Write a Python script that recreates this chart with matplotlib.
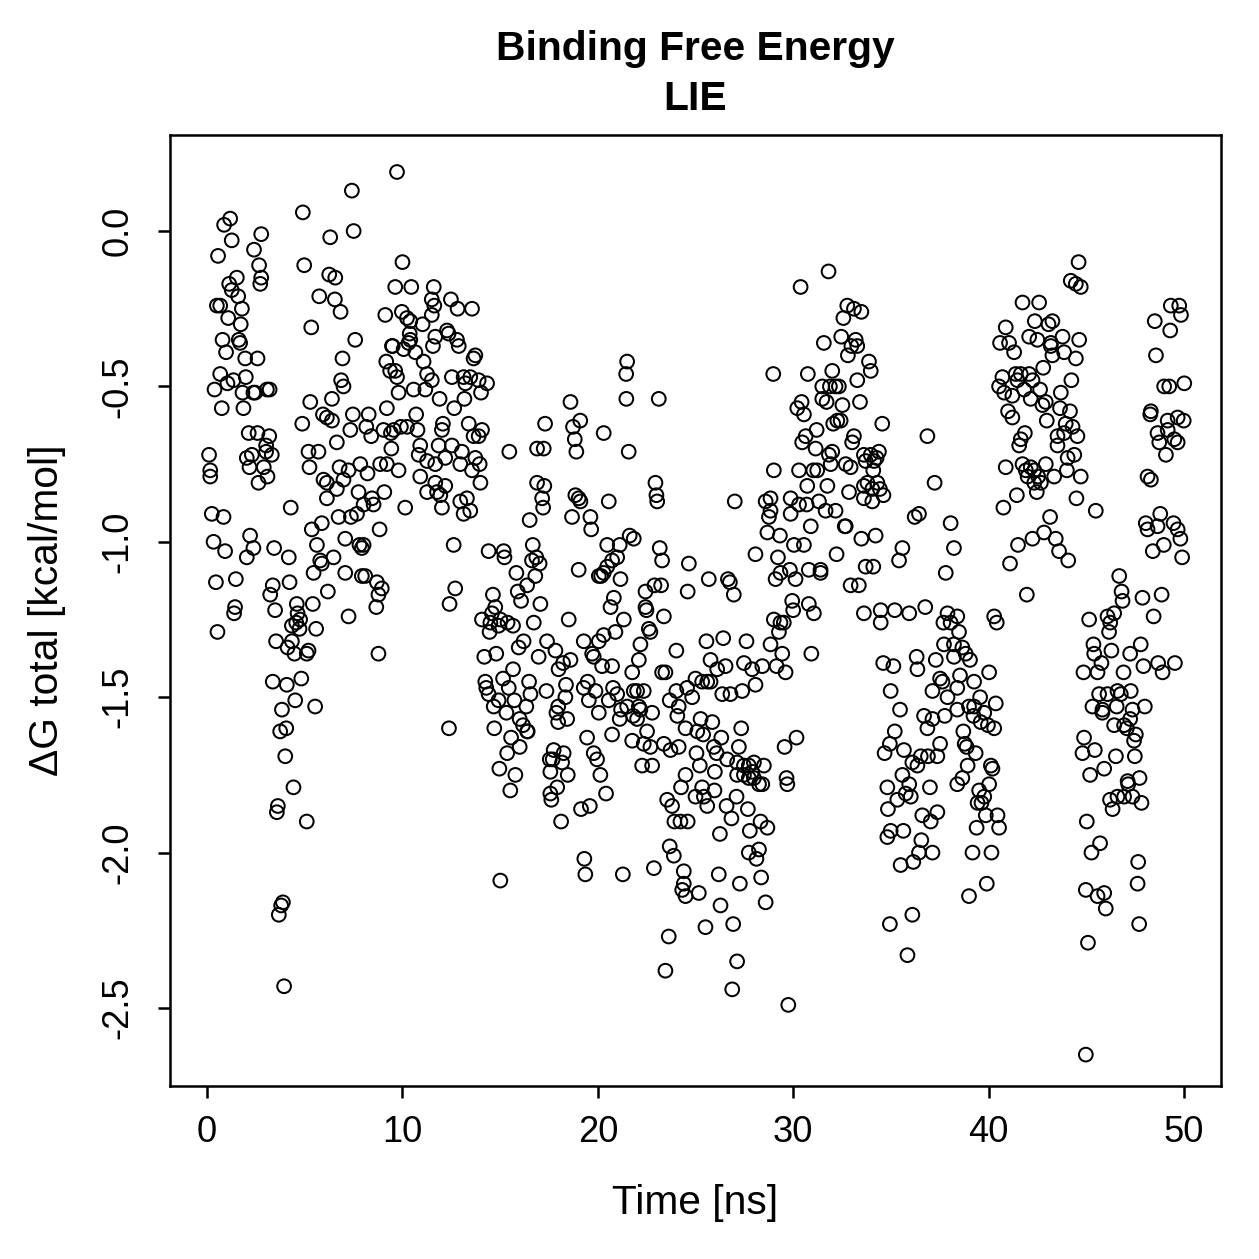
import matplotlib
matplotlib.use("Agg")
import matplotlib.pyplot as plt

plt.rcParams['font.family'] = ['Liberation Sans', 'DejaVu Sans']
plt.rcParams['axes.unicode_minus'] = False

title_lines = ["Binding Free Energy", "LIE"]
x_label = "Time [ns]"
y_label = "\u0394G total [kcal/mol]"
x_ticks = [0, 10, 20, 30, 40, 50]
y_ticks = [-2.5, -2.0, -1.5, -1.0, -0.5, 0.0]

# (time [ns], dG [kcal/mol]), grouped by region
early_upper = [(9.72,0.19),(7.41,0.13),(4.90,0.06),(1.18,0.04),(0.87,0.02),(2.77,-0.01),(7.50,0.00),(6.30,-0.02),(1.26,-0.03),(2.40,-0.06),(0.56,-0.08),(4.97,-0.11),(10.00,-0.10),(2.66,-0.11),(6.25,-0.14),(6.56,-0.15),(1.52,-0.15),(2.77,-0.15),(2.72,-0.17),(1.13,-0.17),(1.26,-0.19),(1.59,-0.21),(5.74,-0.21),(6.54,-0.22),(6.83,-0.26),(10.45,-0.18),(9.63,-0.18),(0.50,-0.24),(0.67,-0.24),(1.08,-0.28),(1.78,-0.25),(1.72,-0.30),(9.12,-0.27),(9.97,-0.26),(10.23,-0.28),(10.40,-0.29),(11.03,-0.30),(0.79,-0.35),(1.62,-0.35),(1.69,-0.36),(0.97,-0.39),(1.95,-0.41),(2.58,-0.41),(5.33,-0.31),(7.58,-0.35),(6.93,-0.41),(6.86,-0.48),(6.98,-0.50),(6.39,-0.54),(5.28,-0.55),(4.87,-0.62),(5.93,-0.59),(6.13,-0.60),(6.39,-0.61),(7.46,-0.59),(8.27,-0.59),(8.15,-0.63),(7.33,-0.64),(9.20,-0.57),(10.70,-0.59),(0.75,-0.57),(1.86,-0.57),(0.67,-0.46),(1.35,-0.48),(1.98,-0.47),(1.04,-0.49),(0.38,-0.51),(1.81,-0.52),(2.37,-0.52),(2.46,-0.52),(3.06,-0.51),(3.20,-0.51),(0.10,-0.72),(2.13,-0.65),(2.58,-0.65),(3.18,-0.66),(3.02,-0.69),(3.31,-0.72),(3.02,-0.71),(2.03,-0.73),(2.29,-0.72),(5.19,-0.71),(5.70,-0.71),(6.64,-0.68),(8.40,-0.66),(9.03,-0.64),(9.41,-0.65),(9.55,-0.64),(9.92,-0.63),(10.23,-0.63),(10.77,-0.64),(9.46,-0.37),(10.06,-0.38),(10.66,-0.39),(11.08,-0.42),(11.26,-0.46),(10.57,-0.51),(9.80,-0.52),(9.17,-0.42),(9.37,-0.45),(9.63,-0.45),(9.72,-0.47),(10.37,-0.33),(10.40,-0.35),(10.31,-0.36),(9.50,-0.37),(11.17,-0.51),(9.43,-0.70),(10.91,-0.69),(10.83,-0.72),(11.26,-0.74)]

early_mid = [(0.16,-0.77),(0.16,-0.79),(2.17,-0.76),(2.90,-0.76),(3.09,-0.79),(2.63,-0.81),(0.24,-0.91),(0.84,-0.92),(0.33,-1.00),(0.92,-1.03),(2.20,-0.98),(2.37,-1.02),(2.03,-1.05),(3.43,-1.02),(4.18,-1.05),(0.45,-1.13),(1.47,-1.12),(1.43,-1.21),(1.38,-1.23),(0.53,-1.29),(3.36,-1.14),(3.23,-1.17),(4.22,-1.13),(3.48,-1.22),(4.59,-1.20),(4.63,-1.23),(4.76,-1.25),(4.34,-1.27),(4.73,-1.28),(4.56,-1.26),(3.53,-1.32),(4.34,-1.32),(4.12,-1.34),(4.47,-1.36),(5.10,-1.36),(5.19,-1.35),(5.41,-1.20),(5.58,-1.28),(5.24,-0.76),(6.78,-0.76),(7.24,-0.77),(7.84,-0.75),(8.21,-0.78),(8.86,-0.75),(9.20,-0.75),(9.80,-0.77),(5.96,-0.80),(6.13,-0.81),(6.64,-0.83),(6.98,-0.80),(6.13,-0.86),(4.28,-0.89),(5.36,-0.96),(5.87,-0.94),(6.73,-0.92),(7.36,-0.92),(7.67,-0.91),(8.83,-0.96),(8.01,-0.88),(8.44,-0.86),(8.52,-0.88),(7.75,-0.84),(9.07,-0.84),(10.14,-0.89),(10.91,-0.79),(11.26,-0.84),(5.62,-1.01),(5.79,-1.06),(5.87,-1.07),(6.47,-1.05),(5.45,-1.10),(7.07,-0.99),(7.07,-1.10),(7.80,-1.01),(7.92,-1.02),(8.01,-1.01),(7.92,-1.11),(8.09,-1.11),(8.69,-1.13),(8.77,-1.17),(8.94,-1.15),(8.66,-1.21),(6.18,-1.16),(7.24,-1.24),(8.77,-1.36),(3.36,-1.45),(4.08,-1.46),(4.82,-1.44),(4.51,-1.51),(5.53,-1.53),(3.83,-1.54),(3.74,-1.61),(4.05,-1.60),(4.00,-1.69)]

early_low = [(4.42,-1.79),(3.62,-1.85),(3.57,-1.87),(5.10,-1.90),(3.88,-2.16),(3.79,-2.17),(3.67,-2.20),(3.94,-2.43)]

middle_upper = [(11.60,-0.18),(12.48,-0.22),(12.82,-0.25),(13.56,-0.25),(11.50,-0.22),(11.63,-0.24),(11.50,-0.27),(11.68,-0.34),(12.28,-0.32),(12.36,-0.33),(12.79,-0.35),(12.88,-0.37),(11.56,-0.37),(13.73,-0.40),(13.64,-0.41),(11.50,-0.48),(12.53,-0.47),(13.13,-0.47),(13.47,-0.47),(13.90,-0.48),(14.33,-0.49),(13.22,-0.49),(11.90,-0.54),(12.65,-0.57),(13.17,-0.54),(14.02,-0.52),(12.07,-0.62),(12.02,-0.64),(13.39,-0.62),(14.07,-0.64),(13.64,-0.66),(13.90,-0.66),(11.85,-0.69),(12.53,-0.69),(13.04,-0.71),(12.19,-0.73),(12.96,-0.75),(13.73,-0.73),(13.95,-0.75),(21.50,-0.42),(21.45,-0.46),(21.46,-0.54),(23.12,-0.54),(21.58,-0.71),(18.60,-0.55),(19.10,-0.61),(18.73,-0.63),(18.82,-0.67),(18.90,-0.71),(17.30,-0.62),(16.89,-0.70),(17.23,-0.70),(15.47,-0.71),(20.30,-0.65)]

middle_mid = [(11.68,-0.75),(13.56,-0.77),(13.99,-0.81),(11.68,-0.81),(12.19,-0.82),(11.77,-0.84),(11.94,-0.85),(12.02,-0.89),(12.96,-0.87),(13.30,-0.86),(13.13,-0.91),(13.47,-0.90),(12.62,-1.01),(12.70,-1.15),(12.41,-1.20),(12.38,-1.60),(14.41,-1.03),(15.18,-1.03),(15.22,-1.05),(15.83,-1.10),(16.67,-1.01),(16.63,-1.06),(16.85,-1.05),(17.02,-1.07),(16.80,-1.11),(16.51,-0.93),(16.89,-0.81),(17.26,-0.82),(17.15,-0.86),(17.20,-0.89),(15.90,-1.16),(16.38,-1.14),(16.07,-1.19),(14.63,-1.17),(14.75,-1.21),(14.58,-1.23),(14.07,-1.25),(15.01,-1.25),(14.50,-1.26),(14.92,-1.27),(15.38,-1.26),(15.66,-1.27),(14.46,-1.29),(17.06,-1.20),(16.72,-1.26),(18.51,-1.25),(15.95,-1.34),(16.20,-1.32),(17.40,-1.32),(17.83,-1.35),(16.97,-1.37),(18.22,-1.39),(18.60,-1.38),(17.99,-1.41),(15.66,-1.41),(14.19,-1.37),(14.80,-1.36),(15.15,-1.44),(14.24,-1.45),(14.29,-1.47),(15.44,-1.47),(16.48,-1.45),(16.55,-1.49),(14.41,-1.49),(14.67,-1.53),(14.92,-1.51),(15.32,-1.55),(15.73,-1.51),(16.34,-1.53),(16.00,-1.57),(16.17,-1.59),(16.38,-1.61),(16.41,-1.61),(15.56,-1.63),(16.00,-1.66),(15.36,-1.68),(14.96,-1.73),(15.78,-1.75),(14.70,-1.60),(17.37,-1.48),(18.37,-1.46),(18.34,-1.50),(17.97,-1.53),(17.88,-1.55),(17.97,-1.58),(18.43,-1.57),(17.74,-1.67),(18.25,-1.68),(17.54,-1.70),(17.69,-1.70),(18.17,-1.71),(17.57,-1.74),(18.46,-1.75),(19.45,-1.63),(20.73,-1.62),(20.05,-1.55),(19.28,-1.47),(19.54,-1.51),(19.88,-1.48),(19.48,-1.45),(20.78,-1.47),(20.56,-1.51),(20.99,-1.49),(21.19,-1.54),(21.50,-1.53),(21.12,-1.57),(21.84,-1.48),(22.01,-1.48),(22.35,-1.48),(22.10,-1.53),(22.01,-1.57),(21.81,-1.56),(22.18,-1.54),(22.78,-1.55),(21.76,-1.64),(22.52,-1.61),(22.35,-1.65),(22.69,-1.66),(22.27,-1.72),(22.78,-1.72),(23.38,-1.65),(23.72,-1.67),(24.14,-1.66),(19.79,-1.68),(19.96,-1.70),(20.13,-1.75),(23.68,-1.51),(24.02,-1.48),(24.14,-1.53),(24.07,-1.56),(24.49,-1.60),(24.57,-1.47),(24.49,-1.75),(19.28,-1.32),(19.71,-1.36),(19.79,-1.37),(20.22,-1.40),(20.73,-1.40),(20.05,-1.32),(20.30,-1.30),(20.90,-1.29),(21.33,-1.25),(20.65,-1.21),(20.82,-1.18),(21.76,-1.42),(22.10,-1.38),(22.18,-1.33),(22.61,-1.28),(22.69,-1.29),(22.44,-1.21),(22.49,-1.22),(22.44,-1.16),(22.90,-1.14),(23.24,-1.14),(23.38,-1.24),(24.02,-1.35),(23.29,-1.42),(23.46,-1.42),(24.66,-1.07),(24.60,-1.16),(23.17,-1.02),(23.29,-1.06),(21.63,-0.98),(21.84,-0.99),(20.48,-1.01),(21.12,-1.01),(20.99,-1.05),(20.73,-1.06),(20.48,-1.08),(20.30,-1.10),(20.05,-1.11),(20.17,-1.11),(21.16,-1.12),(19.02,-1.09),(20.56,-0.87),(19.62,-0.92),(19.66,-0.96),(18.68,-0.92),(18.85,-0.85),(19.02,-0.86),(19.11,-0.87),(22.95,-0.81),(23.00,-0.85),(23.04,-0.87)]

middle_low = [(15.52,-1.80),(17.92,-1.79),(17.57,-1.81),(17.62,-1.83),(19.14,-1.86),(19.59,-1.85),(18.12,-1.90),(20.42,-1.81),(15.01,-2.09),(19.31,-2.02),(19.36,-2.07),(21.28,-2.07),(22.87,-2.05),(23.55,-1.83),(23.80,-1.85),(23.92,-1.90),(24.23,-1.90),(24.60,-1.90),(23.68,-1.98),(23.89,-2.01),(24.40,-2.06),(24.40,-2.10),(24.32,-2.12),(24.49,-2.14),(23.63,-2.27),(23.46,-2.38),(24.26,-1.79)]

late_upper = [(31.81,-0.13),(30.38,-0.18),(32.77,-0.24),(33.11,-0.25),(33.49,-0.26),(32.57,-0.28),(32.46,-0.34),(33.20,-0.35),(33.28,-0.37),(32.98,-0.37),(31.57,-0.36),(32.80,-0.40),(33.88,-0.42),(33.97,-0.45),(32.00,-0.45),(30.75,-0.46),(28.98,-0.46),(33.28,-0.48),(31.49,-0.50),(31.88,-0.50),(32.17,-0.50),(32.34,-0.50),(31.49,-0.54),(31.71,-0.55),(32.52,-0.56),(33.42,-0.55),(30.43,-0.55),(30.21,-0.57),(30.55,-0.59),(31.20,-0.64),(32.05,-0.62),(32.26,-0.61),(32.43,-0.61),(34.56,-0.62),(36.87,-0.66),(30.64,-0.66),(30.46,-0.68),(33.11,-0.66),(33.02,-0.68),(31.15,-0.70),(32.00,-0.71),(31.83,-0.72),(33.62,-0.72),(33.97,-0.72),(34.39,-0.71),(34.27,-0.73)]

late_mid = [(29.01,-0.77),(30.30,-0.77),(31.03,-0.77),(31.23,-0.77),(31.92,-0.75),(32.69,-0.75),(32.94,-0.76),(33.71,-0.74),(34.10,-0.77),(34.14,-0.74),(30.72,-0.82),(31.75,-0.82),(32.86,-0.84),(33.62,-0.82),(33.80,-0.81),(34.05,-0.83),(34.31,-0.81),(34.44,-0.83),(34.62,-0.85),(33.62,-0.86),(34.05,-0.87),(37.24,-0.81),(27.01,-0.87),(28.59,-0.87),(28.84,-0.86),(28.84,-0.90),(28.76,-0.92),(29.87,-0.86),(29.87,-0.91),(30.30,-0.88),(30.69,-0.88),(31.32,-0.87),(31.66,-0.90),(32.17,-0.90),(30.90,-0.95),(32.64,-0.95),(32.69,-0.95),(36.22,-0.92),(36.44,-0.91),(38.06,-0.94),(38.23,-1.02),(28.68,-0.97),(29.32,-0.98),(30.04,-1.01),(30.55,-1.01),(29.22,-1.05),(29.35,-1.10),(29.83,-1.09),(30.12,-1.12),(29.10,-1.12),(28.07,-1.04),(30.80,-1.09),(31.40,-1.09),(31.40,-1.10),(32.22,-1.04),(33.49,-0.99),(34.22,-0.98),(33.71,-1.08),(34.10,-1.08),(32.94,-1.14),(33.36,-1.14),(35.59,-1.02),(35.42,-1.06),(37.81,-1.10),(25.68,-1.12),(26.66,-1.12),(26.76,-1.13),(26.96,-1.17),(29.95,-1.19),(30.00,-1.22),(30.80,-1.20),(31.06,-1.23),(29.01,-1.25),(29.35,-1.26),(29.52,-1.26),(29.27,-1.29),(28.84,-1.33),(27.61,-1.32),(26.42,-1.31),(25.56,-1.32),(25.77,-1.38),(26.11,-1.41),(26.54,-1.40),(27.48,-1.39),(27.90,-1.41),(28.42,-1.40),(29.15,-1.40),(29.44,-1.36),(29.61,-1.42),(30.93,-1.36),(28.07,-1.46),(27.39,-1.48),(26.79,-1.49),(26.37,-1.49),(25.60,-1.45),(25.77,-1.45),(25.00,-1.44),(24.83,-1.50),(25.34,-1.45),(25.26,-1.57),(25.86,-1.58),(25.09,-1.61),(25.39,-1.62),(26.32,-1.63),(27.34,-1.60),(27.22,-1.66),(25.94,-1.66),(26.08,-1.68),(25.05,-1.68),(26.62,-1.70),(25.22,-1.72),(27.13,-1.71),(27.48,-1.72),(27.73,-1.72),(27.99,-1.71),(28.50,-1.72),(27.90,-1.74),(25.99,-1.74),(30.17,-1.63),(29.56,-1.66),(29.66,-1.76),(34.61,-1.39),(35.13,-1.40),(36.32,-1.37),(36.36,-1.41),(37.30,-1.38),(37.13,-1.48),(37.52,-1.44),(37.64,-1.45),(37.90,-1.50),(38.23,-1.37),(38.23,-1.33),(37.72,-1.33),(38.06,-1.26),(38.40,-1.24),(37.69,-1.26),(37.90,-1.23),(34.99,-1.48),(35.47,-1.54),(36.70,-1.56),(37.13,-1.57),(36.87,-1.60),(37.76,-1.56),(35.20,-1.61),(34.95,-1.65),(34.68,-1.68),(35.67,-1.67),(36.10,-1.71),(36.53,-1.69),(36.90,-1.69),(37.38,-1.69),(37.52,-1.65),(35.59,-1.75),(36.36,-1.72),(33.62,-1.23),(34.48,-1.22),(35.20,-1.22),(35.94,-1.23),(36.76,-1.21),(34.48,-1.26)]

late_low = [(27.13,-1.75),(27.48,-1.75),(27.73,-1.76),(27.99,-1.76),(28.25,-1.78),(28.42,-1.78),(29.70,-1.78),(25.34,-1.79),(25.97,-1.80),(25.00,-1.82),(25.43,-1.82),(25.60,-1.85),(26.59,-1.85),(27.10,-1.82),(27.68,-1.86),(26.84,-1.89),(26.25,-1.94),(27.78,-1.93),(28.33,-1.90),(28.68,-1.92),(27.73,-2.00),(28.25,-1.99),(28.12,-2.02),(26.19,-2.07),(27.27,-2.10),(28.36,-2.08),(25.17,-2.13),(26.28,-2.17),(28.59,-2.16),(25.51,-2.24),(26.93,-2.23),(27.13,-2.35),(26.88,-2.44),(29.75,-2.49),(35.94,-1.78),(37.00,-1.79),(38.40,-1.78),(34.82,-1.79),(35.33,-1.83),(35.76,-1.81),(36.02,-1.82),(34.85,-1.86),(36.61,-1.88),(37.38,-1.87),(37.04,-1.90),(34.99,-1.93),(35.64,-1.93),(34.82,-1.95),(36.56,-1.96),(36.44,-2.00),(37.13,-2.00),(36.15,-2.03),(35.50,-2.04),(36.10,-2.20),(34.95,-2.23),(35.85,-2.33)]

final_upper = [(44.61,-0.10),(44.21,-0.16),(44.47,-0.17),(44.72,-0.18),(41.74,-0.23),(42.59,-0.23),(42.37,-0.29),(43.07,-0.30),(43.27,-0.29),(40.88,-0.31),(40.59,-0.36),(41.05,-0.36),(41.31,-0.39),(42.08,-0.34),(42.50,-0.35),(43.19,-0.36),(43.19,-0.37),(43.79,-0.34),(43.27,-0.40),(43.87,-0.39),(44.47,-0.41),(44.64,-0.35),(42.80,-0.44),(44.24,-0.48),(40.71,-0.47),(40.54,-0.50),(40.80,-0.52),(41.22,-0.53),(41.39,-0.46),(41.65,-0.46),(41.48,-0.48),(42.08,-0.46),(42.25,-0.48),(41.82,-0.51),(42.16,-0.54),(42.64,-0.51),(42.76,-0.56),(42.93,-0.55),(43.70,-0.52),(41.00,-0.58),(41.22,-0.60),(42.98,-0.61),(43.66,-0.57),(44.17,-0.58),(43.95,-0.62),(44.30,-0.63),(44.55,-0.66),(43.53,-0.66),(43.87,-0.65),(43.53,-0.69),(41.86,-0.65),(41.65,-0.67),(41.57,-0.69),(40.88,-0.76),(41.74,-0.75),(42.16,-0.76),(42.93,-0.75),(44.05,-0.73),(44.39,-0.72),(48.51,-0.29),(49.33,-0.24),(49.76,-0.24),(49.85,-0.27),(49.30,-0.32),(48.57,-0.40),(48.99,-0.50),(49.25,-0.50),(50.02,-0.49),(48.28,-0.59),(48.31,-0.58),(49.17,-0.61),(49.68,-0.60),(49.99,-0.61),(48.65,-0.65),(49.17,-0.64),(48.74,-0.68),(49.51,-0.67),(49.68,-0.68),(49.08,-0.72)]

final_mid = [(42.00,-0.79),(42.34,-0.77),(42.54,-0.79),(42.34,-0.81),(42.47,-0.84),(42.68,-0.81),(43.36,-0.79),(44.01,-0.77),(44.72,-0.79),(41.91,-0.77),(41.45,-0.85),(40.76,-0.89),(44.50,-0.86),(45.49,-0.90),(43.15,-0.92),(42.84,-0.97),(42.25,-0.99),(41.51,-1.01),(43.44,-0.99),(43.61,-1.03),(44.08,-1.06),(41.10,-1.07),(41.96,-1.17),(48.14,-0.79),(48.31,-0.80),(48.79,-0.91),(48.05,-0.94),(48.14,-0.96),(48.65,-0.95),(49.47,-0.94),(49.68,-0.96),(49.82,-0.99),(48.41,-1.03),(48.97,-1.01),(49.91,-1.05),(46.69,-1.11),(46.81,-1.16),(46.86,-1.19),(47.88,-1.18),(48.86,-1.17),(48.45,-1.24),(45.15,-1.25),(46.09,-1.24),(46.43,-1.23),(46.23,-1.26),(46.17,-1.29),(45.37,-1.33),(45.41,-1.36),(45.78,-1.39),(45.58,-1.42),(44.86,-1.42),(46.29,-1.35),(47.25,-1.36),(47.79,-1.33),(46.91,-1.42),(47.93,-1.40),(48.68,-1.39),(48.91,-1.42),(49.54,-1.39),(45.66,-1.49),(46.09,-1.49),(46.60,-1.48),(46.77,-1.49),(47.28,-1.48),(45.32,-1.53),(45.83,-1.54),(45.83,-1.55),(46.56,-1.53),(47.37,-1.54),(48.00,-1.53),(46.43,-1.59),(46.94,-1.59),(47.25,-1.57),(47.08,-1.60),(47.54,-1.62),(47.45,-1.64),(44.89,-1.63),(44.81,-1.68),(45.44,-1.67),(46.52,-1.69),(47.49,-1.69),(45.20,-1.75),(45.92,-1.73),(47.12,-1.77),(47.73,-1.76),(38.49,-1.29),(38.66,-1.34),(38.83,-1.36),(39.05,-1.38),(38.54,-1.43),(39.26,-1.45),(40.03,-1.42),(40.29,-1.24),(40.42,-1.26),(38.40,-1.47),(38.40,-1.54),(39.00,-1.53),(39.26,-1.53),(39.57,-1.50),(39.78,-1.55),(39.23,-1.56),(39.60,-1.58),(39.97,-1.59),(40.29,-1.60),(40.37,-1.52),(38.71,-1.61),(38.78,-1.65),(38.88,-1.66),(39.34,-1.68),(38.93,-1.72),(40.12,-1.72),(40.20,-1.73),(38.66,-1.76)]

final_low = [(40.03,-1.78),(39.52,-1.80),(39.78,-1.82),(39.44,-1.84),(39.64,-1.84),(39.86,-1.88),(40.46,-1.88),(39.39,-1.92),(40.54,-1.92),(39.18,-2.00),(40.15,-2.00),(39.91,-2.10),(39.00,-2.14),(47.15,-1.78),(46.22,-1.83),(46.60,-1.82),(46.94,-1.82),(47.37,-1.82),(47.83,-1.84),(46.35,-1.86),(45.03,-1.90),(45.71,-1.97),(45.27,-2.00),(47.66,-2.03),(47.63,-2.10),(44.98,-2.12),(45.92,-2.13),(45.58,-2.14),(46.00,-2.18),(47.71,-2.23),(45.09,-2.29),(44.98,-2.65)]

groups = [early_upper, early_mid, early_low, middle_upper, middle_mid, middle_low,
          late_upper, late_mid, late_low, final_upper, final_mid, final_low]
time_ns = [p[0] for g in groups for p in g]
dg_total = [p[1] for g in groups for p in g]

W = 1259
fig = plt.figure(figsize=(W / 180, W / 180), dpi=180)
ax = fig.add_axes([170 / W, 1 - 1086 / W, 1051 / W, 951 / W])

ax.scatter(time_ns, dg_total, s=30, facecolors='none', edgecolors='black', linewidths=0.8)

ax.set_xlim(-1.9, 51.9)
ax.set_ylim(-2.751, 0.309)
ax.set_xticks(x_ticks)
ax.set_xticklabels([str(v) for v in x_ticks])
ax.set_yticks(y_ticks)
ax.set_yticklabels(["%.1f" % v for v in y_ticks], rotation=90, va='center')

for sp in ax.spines.values():
    sp.set_linewidth(1.0)
ax.tick_params(axis='both', direction='out', length=4.8, width=1.0, labelsize=14.5)
ax.tick_params(axis='x', pad=7)
ax.tick_params(axis='y', pad=9)

ax.set_xlabel(x_label, fontsize=16.3, va='center')
ax.xaxis.set_label_coords(0.5, (1086 - 1203) / 951)
ax.set_ylabel(y_label, fontsize=16.3, va='center')
ax.yaxis.set_label_coords((47 - 170) / 1051, 0.5)

cx = (170 + 1221) / 2 / W
fig.text(cx, 1 - 60 / W, title_lines[0], ha='center', va='baseline', fontsize=16.3, fontweight='bold')
fig.text(cx, 1 - 110 / W, title_lines[1], ha='center', va='baseline', fontsize=16.3, fontweight='bold')

fig.savefig("out.png", dpi=180)
